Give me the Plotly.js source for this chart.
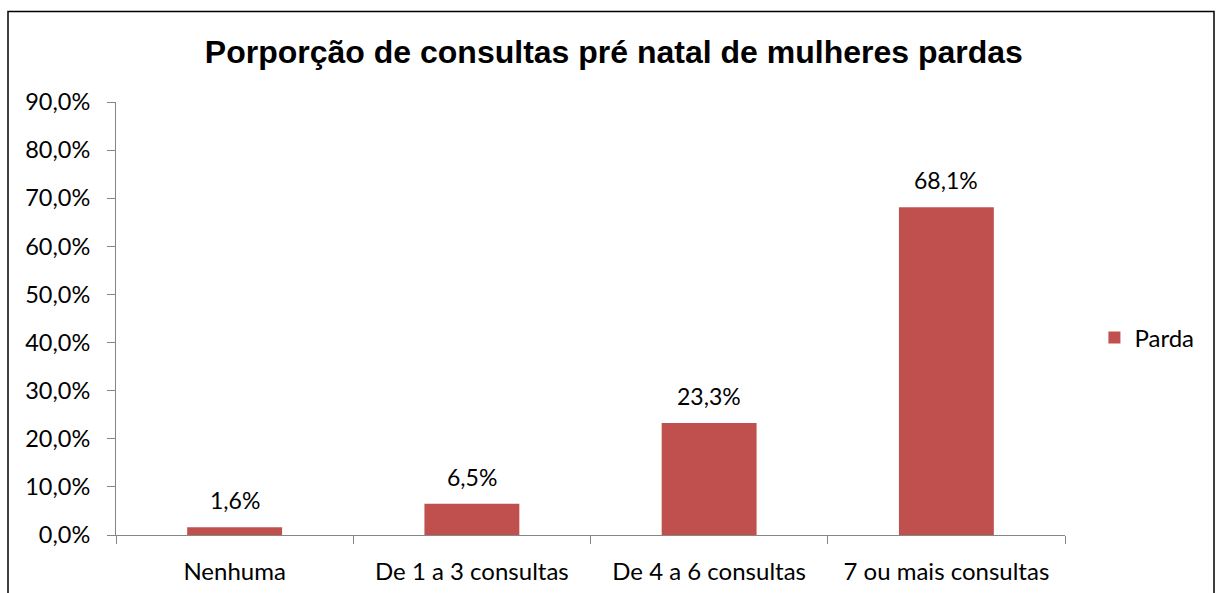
<!DOCTYPE html>
<html>
<head>
<meta charset="utf-8">
<script src="https://cdn.plot.ly/plotly-3.0.1.min.js"></script>
<style>html,body{margin:0;padding:0;background:#fff;}#chart{width:1218px;height:593px;}</style>
</head>
<body>
<div id="chart"></div>
<script>
const categories = ["Nenhuma", "De 1 a 3 consultas", "De 4 a 6 consultas", "7 ou mais consultas"];
const parda = [0.016, 0.065, 0.233, 0.681];
const seriesName = "Parda";
const yTicks = [0, 0.1, 0.2, 0.3, 0.4, 0.5, 0.6, 0.7, 0.8, 0.9];

const bodyFont = "Lato, 'Open Sans', sans-serif";
const fmt = v => (v * 100).toFixed(1).replace(".", ",") + "%";

const data = [{
  type: "bar",
  x: categories,
  y: parda,
  name: seriesName,
  marker: {color: "#C0504D"},
  width: 0.4,
  hoverinfo: "none"
}];

const annotations = categories.map((c, i) => ({
  x: c, y: parda[i], xref: "x", yref: "y",
  text: fmt(parda[i]), showarrow: false,
  xanchor: "center", yanchor: "bottom", yshift: 11,
  font: {family: bodyFont, size: 23, color: "#000"}
}));

const layout = {
  width: 1218, height: 593,
  margin: {l: 116, r: 153, t: 102, b: 58},
  separators: ",.",
  paper_bgcolor: "#fff", plot_bgcolor: "#fff",
  showlegend: true,
  title: {text: "Porporção de consultas pré natal de mulheres pardas",
          font: {family: "'Liberation Sans', Arial, sans-serif", size: 32, color: "#000", weight: "bold"},
          x: 0.504, xanchor: "center", y: 1 - 52/593, yanchor: "middle"},
  legend: {x: 1.031, xanchor: "left", y: 0.455, yanchor: "middle",
           font: {family: bodyFont, size: 24, color: "#000"}, itemwidth: 30},
  xaxis: {type: "category", showline: true, linecolor: "#868686", linewidth: 1,
          ticks: "outside", tickson: "boundaries", ticklen: 8, tickcolor: "#868686",
          ticklabelstandoff: 15,
          tickfont: {family: bodyFont, size: 24, color: "#000"}, showgrid: false, fixedrange: true},
  yaxis: {range: [0, 0.9], tickvals: yTicks, tickformat: ".1%", showline: true, linecolor: "#868686",
          ticks: "outside", ticklen: 8, tickcolor: "#868686", showgrid: false, zeroline: false,
          ticklabelstandoff: 12,
          tickfont: {family: bodyFont, size: 23.5, color: "#000"}, fixedrange: true},
  annotations: annotations,
  shapes: [{type: "rect", xref: "paper", yref: "paper",
            x0: (8-116)/949, x1: (1214-116)/949, y0: (535-610)/433, y1: (535-11.5)/433,
            line: {color: "#000", width: 1.5}, fillcolor: "rgba(0,0,0,0)"}]
};

Plotly.newPlot("chart", data, layout, {displayModeBar: false, staticPlot: true});
</script>
</body>
</html>
